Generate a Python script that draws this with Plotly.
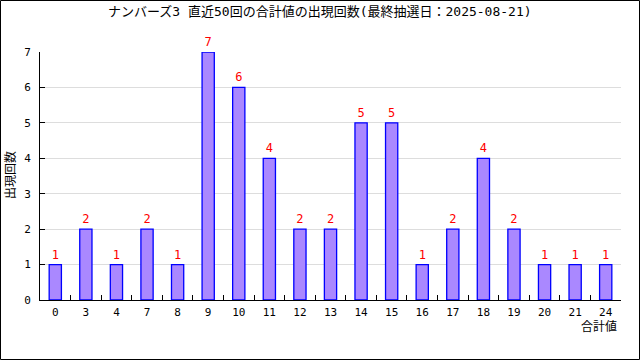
import plotly.graph_objects as go

categories = ["0", "3", "4", "7", "8", "9", "10", "11", "12", "13", "14", "15", "16", "17", "18", "19", "20", "21", "24"]
counts = [1, 2, 1, 2, 1, 7, 6, 4, 2, 2, 5, 5, 1, 2, 4, 2, 1, 1, 1]
title_text = "ナンバーズ3 直近50回の合計値の出現回数(最終抽選日：2025-08-21)"
y_title = "出現回数"
x_title = "合計値"

FONT = "DejaVu Sans Mono, Noto Sans CJK JP, monospace"

W, H = 640, 360
L, R, T, B = 40, 19, 52, 60
PW, PH = W - L - R, H - T - B

fig = go.Figure(go.Bar(
    x=categories, y=counts,
    width=0.4,
    marker=dict(color="#aa88ff", line=dict(color="#0000ff", width=1.3)),
    text=[str(v) for v in counts],
    textposition="outside",
    textfont=dict(color="#ff0000", size=12, family=FONT),
    cliponaxis=False,
    hoverinfo="skip",
))

fig.update_layout(
    width=W, height=H,
    margin=dict(l=L, r=R, t=T, b=B, pad=0, autoexpand=False),
    paper_bgcolor="white", plot_bgcolor="white",
    showlegend=False,
    font=dict(family=FONT, size=11, color="black"),
    xaxis=dict(
        type="category", range=[-0.5, 18.5], automargin=False,
        showline=True, linecolor="black", linewidth=1,
        ticks="inside", tickson="boundaries", ticklen=5, tickcolor="black",
        showgrid=False, tickfont=dict(size=11, family=FONT),
        ticklabelstandoff=2,
    ),
    yaxis=dict(
        range=[0, 7], dtick=1, automargin=False,
        showline=True, linecolor="black", linewidth=1,
        ticks="inside", ticklen=5, tickcolor="black",
        showgrid=True, gridcolor="#dddddd", gridwidth=1,
        zeroline=False, tickfont=dict(size=11, family=FONT),
        ticklabelstandoff=6,
    ),
    annotations=[
        dict(text=title_text, xref="paper", yref="paper",
             x=(320 - L) / PW, y=(H - B - 12) / PH, xanchor="center", yanchor="middle",
             showarrow=False, font=dict(size=13, family=FONT)),
        dict(text=y_title, xref="paper", yref="paper",
             x=(10 - L) / PW, y=(H - B - 175) / PH, xanchor="center", yanchor="middle",
             textangle=-90, showarrow=False, font=dict(size=12, family=FONT)),
        dict(text=x_title, xref="paper", yref="paper",
             x=(599 - L) / PW, y=(H - B - 326) / PH, xanchor="center", yanchor="middle",
             showarrow=False, font=dict(size=12, family=FONT)),
    ],
    shapes=[
        dict(type="rect", xref="paper", yref="paper",
             x0=(0.5 - L) / PW, x1=(639.5 - L) / PW,
             y0=(H - B - 359.5) / PH, y1=(H - B - 0.5) / PH,
             line=dict(color="black", width=1), fillcolor="rgba(0,0,0,0)", layer="above"),
    ],
)

fig.write_html(
    "out.html",
    config={"displayModeBar": False},
    post_script="document.body.style.margin='0';document.body.style.padding='0';document.body.style.overflow='hidden';",
)
